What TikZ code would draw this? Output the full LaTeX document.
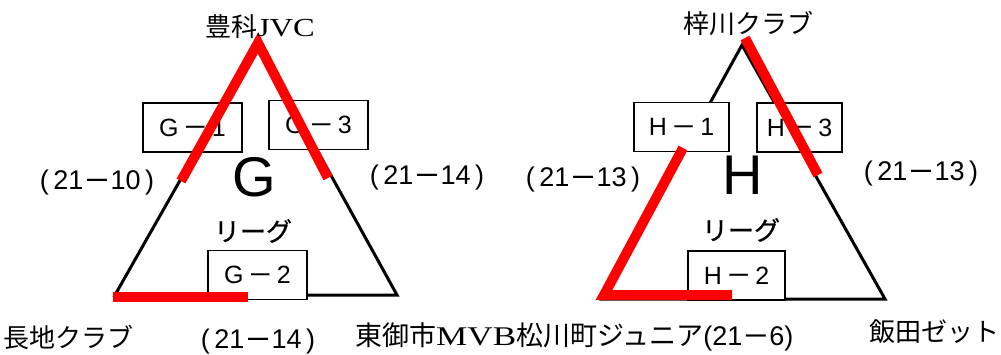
\documentclass[tikz,border=0pt]{standalone}
\usepackage{fontspec}
\setmainfont{Noto Sans CJK JP}
\newfontfamily\lser[FakeStretch=1.25]{Liberation Serif}
\newfontfamily\ar{Liberation Sans}
\newfontfamily\cjkm[FakeBold=0.8]{Noto Sans CJK JP}
\newcommand\dsh{{\cjkm －}}
\begin{document}
\begin{tikzpicture}[x=1pt,y=-1pt,
  tri/.style={draw=black,line width=3pt,line join=miter},
  hit/.style={draw=red,line width=10pt,line join=miter},
  box/.style={draw=black,fill=white,line width=1.5pt,inner sep=0pt,minimum height=49pt,font=\ar\fontsize{25}{25}\selectfont},
  team/.style={inner sep=0pt,font=\fontsize{26}{26}\selectfont},
  score/.style={inner sep=0pt,font=\ar\fontsize{27}{27}\selectfont},
  big/.style={inner sep=0pt,font=\ar\fontsize{56}{56}\selectfont},
  lg/.style={inner sep=0pt,font=\cjkm\fontsize{26}{26}\selectfont}
]
\useasboundingbox (0,0) rectangle (1001,354);
% G league triangle
\coordinate (GA) at (258,43);
\coordinate (GL) at (115,295);
\coordinate (GR) at (397,295);
\draw[tri] (GA) -- (GL) -- (GR) -- cycle;
% H league triangle
\coordinate (HA) at (742,45);
\coordinate (HL) at (602,299);
\coordinate (HR) at (885,299);
\draw[tri] (HA) -- (HL) -- (HR) -- cycle;
% boxes
\node[box,minimum width=99pt] (g1) at (192.5,127.5) {G\,\dsh\,1};
\node[box,minimum width=99pt] (g3) at (318.5,125) {G\,\dsh\,3};
\node[box,minimum width=99pt] (g2) at (257.5,275) {G\,\dsh\,2};
\node[box,minimum width=95pt] (h1) at (681.5,127) {H\,\dsh\,1};
\node[box,minimum width=85pt] (h3) at (799.5,127.5) {H\,\dsh\,3};
\node[box,minimum width=97pt] (h2) at (736.5,275.5) {H\,\dsh\,2};
% red results
\coordinate (gr1) at (181,181);
\coordinate (gr3) at (328,178);
\coordinate (gb1) at (113,297);
\coordinate (gb2) at (248,297);
\draw[hit] (gr1) -- (GA) -- (gr3);
\draw[hit] (gb1) -- (gb2);
\coordinate (hr1) at (745,38);
\coordinate (hr2) at (818,175);
\coordinate (hl1) at (683,148);
\coordinate (hl2) at (604,295);
\coordinate (hl3) at (732,295);
\draw[hit] (hr1) -- (hr2);
\draw[hit] (hl1) -- (hl2) -- (hl3);
% team names
\node[team] (t1) at (260,27) {豊科{\lser JVC}};
\node[team] (t2) at (68,337) {長地クラブ};
\node[team,anchor=west,font=\fontsize{27}{27}\selectfont] (t3) at (355,337) {東御市{\lser\addfontfeature{FakeStretch=1.3}MVB}松川町ジュニア{\ar(21\dsh 6)}};
\node[team,anchor=east] (t4b) at (1000,332) {飯田ゼット};
\node[team] (t4) at (748,23) {梓川クラブ};
% scores
\node[score] (s1) at (97,183) {(\,21\dsh 10\,)};
\node[score] (s2) at (427,178) {(\,21\dsh 14\,)};
\node[score] (s3) at (258,342) {(\,21\dsh 14\,)};
\node[score] (s4) at (583,180) {(\,21\dsh 13\,)};
\node[score] (s5) at (921,174) {(\,21\dsh 13\,)};
% league labels
\node[big] (G) at (254,177) {G};
\node[lg] (gl) at (253,231) {リーグ};
\node[big] (H) at (743,175) {H};
\node[lg] (hl) at (741,230) {リーグ};
\end{tikzpicture}
\end{document}
